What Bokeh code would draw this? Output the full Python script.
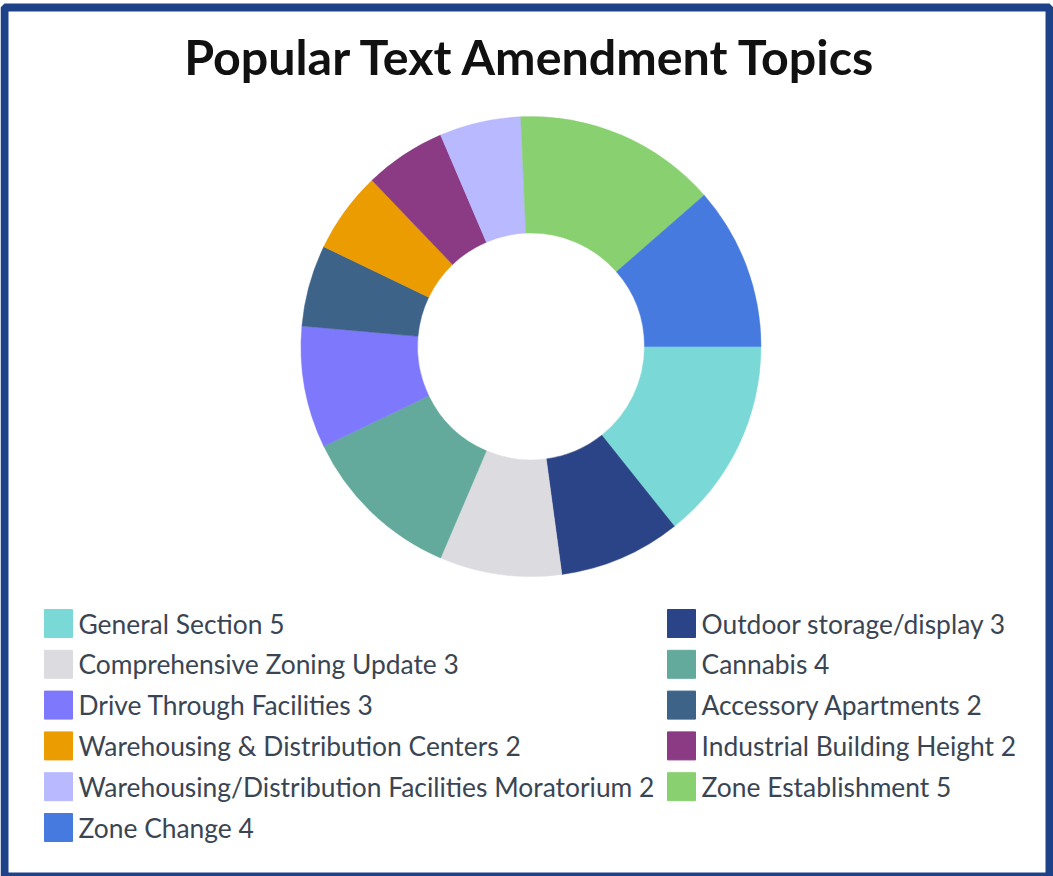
import math
from bokeh.plotting import figure
from bokeh.models import Range1d, ColumnDataSource
from bokeh.core.properties import value
from bokeh.embed import file_html
from bokeh.resources import INLINE

title_text = "Popular Text Amendment Topics"
topics = [
    "General Section", "Outdoor storage/display", "Comprehensive Zoning Update",
    "Cannabis", "Drive Through Facilities", "Accessory Apartments",
    "Warehousing & Distribution Centers", "Industrial Building Height",
    "Warehousing/Distribution Facilities Moratorium", "Zone Establishment",
    "Zone Change",
]
counts = [5, 3, 3, 4, 3, 2, 2, 2, 2, 5, 4]
colors = [
    "#7ad9d6", "#2b4387", "#dcdce0", "#63aa9c", "#7e78fd", "#3e6389",
    "#eb9c00", "#8b3b83", "#b8b9ff", "#89d170", "#477adf",
]

W, H = 1053, 876
p = figure(width=W, height=H, output_backend="svg", toolbar_location=None,
           x_range=Range1d(0, W), y_range=Range1d(0, H),
           x_axis_location=None, y_axis_location=None, min_border=0,
           background_fill_color="white", border_fill_color="white")
p.grid.visible = False
p.outline_line_color = None

def Y(ypix):
    return H - ypix

# donut
total = sum(counts)
k = 2 * math.pi / total
cum = [0]
for c in counts:
    cum.append(cum[-1] + c)
src = ColumnDataSource(dict(
    start=[-cum[i + 1] * k for i in range(len(counts))],
    end=[-cum[i] * k for i in range(len(counts))],
    color=colors,
))
cx, cy = 530.5, Y(346)
p.annular_wedge(x=cx, y=cy, inner_radius=113.5, outer_radius=230,
                start_angle="start", end_angle="end", color="color",
                line_color="color", line_width=0.5, source=src)

# title
p.text(x=[531], y=[Y(55)], text=[title_text], text_align="center",
       text_baseline="middle", text_font=value("Lato"), text_font_style="bold",
       text_font_size="48.4px", text_color="#111111")

# legend (two columns, row-wise)
row0, step = 623, 40.8
col_sq = [58, 681]
col_tx = [78, 701]
lx, ly, tx, labels = [], [], [], []
for i, (t, c) in enumerate(zip(topics, counts)):
    r, col = divmod(i, 2)
    yy = Y(row0 + r * step)
    lx.append(col_sq[col]); ly.append(yy); tx.append(col_tx[col])
    labels.append(f"{t} {c}")
p.rect(x=lx, y=ly, width=28, height=28, color=colors, line_color=colors)
p.text(x=tx, y=ly, text=labels, text_align="left", text_baseline="middle",
       text_font=value("Lato"), text_font_size="26.4px", text_color="#3a4553")

# frame
p.quad(left=[4], right=[1049], top=[Y(7)], bottom=[Y(876)],
       fill_color=None, line_color="#1e4288", line_width=8)

open("out.html", "w").write(file_html(p, INLINE))
